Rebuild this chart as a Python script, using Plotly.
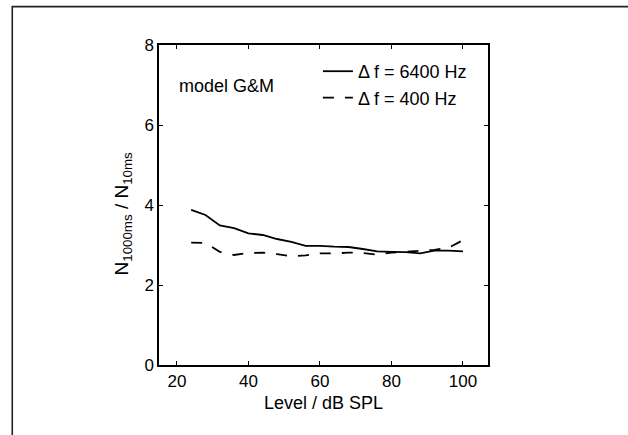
import plotly.graph_objects as go

# Data
level = [24, 28, 32, 36, 40, 44, 48, 52, 56, 60, 64, 68, 72, 76, 80, 84, 88, 92, 96, 100]
ratio_6400 = [3.88, 3.75, 3.49, 3.42, 3.29, 3.25, 3.15, 3.08, 2.98, 2.98, 2.96, 2.95, 2.90, 2.84, 2.83, 2.82, 2.79, 2.86, 2.86, 2.84]
ratio_400 = [3.06, 3.05, 2.83, 2.75, 2.80, 2.81, 2.77, 2.72, 2.74, 2.79, 2.79, 2.81, 2.80, 2.76, 2.81, 2.83, 2.86, 2.88, 2.93, 3.12]
series_names = ["\u0394 f = 6400 Hz", "\u0394 f = 400 Hz"]
x_ticks = [20, 40, 60, 80, 100]
y_ticks = [0, 2, 4, 6, 8]

FONT = "Liberation Sans, Arial, Helvetica, sans-serif"

fig = go.Figure()
fig.add_trace(go.Scatter(x=level, y=ratio_6400, mode="lines", name=series_names[0],
                         line=dict(color="black", width=1.8)))
fig.add_trace(go.Scatter(x=level, y=ratio_400, mode="lines", name=series_names[1],
                         line=dict(color="black", width=1.8, dash="11px,11px")))

axis_common = dict(
    showgrid=False, zeroline=False, showline=True, linecolor="black", linewidth=1.5,
    mirror="ticks", ticks="inside", ticklen=4, tickwidth=1, tickcolor="black",
    tickfont=dict(family=FONT, size=17, color="black"),
)

fig.update_layout(
    width=628, height=435,
    margin=dict(l=159, r=140, t=45, b=70),
    paper_bgcolor="white", plot_bgcolor="white",
    font=dict(family=FONT, color="black"),
    xaxis=dict(range=[15, 107], tickvals=x_ticks,
               title=dict(text="Level / dB SPL", font=dict(family=FONT, size=18, color="black"), standoff=6),
               **axis_common),
    yaxis=dict(range=[0, 8], tickvals=y_ticks, **axis_common),
    showlegend=True,
    legend=dict(x=0.483, y=0.975, xanchor="left", yanchor="top",
                bgcolor="rgba(0,0,0,0)", borderwidth=0,
                font=dict(family=FONT, size=18, color="black"),
                tracegroupgap=0),
    annotations=[
        dict(text="model G&M", x=20, y=6.97, xref="x", yref="y", xanchor="left", yanchor="middle",
             showarrow=False, font=dict(family=FONT, size=18, color="black")),
        dict(text="N<sub>1000ms</sub> / N<sub>10ms</sub>", x=-0.11, y=0.473, xref="paper", yref="paper",
             xanchor="center", yanchor="middle", textangle=-90, showarrow=False,
             font=dict(family=FONT, size=19, color="black")),
    ],
    shapes=[
        dict(type="rect", xref="paper", yref="paper", x0=-0.446, x1=2.0, y0=-0.5, y1=1.12,
             line=dict(color="#222222", width=1.6), fillcolor="rgba(0,0,0,0)", layer="below"),
    ],
)

fig.write_html("out.html")
